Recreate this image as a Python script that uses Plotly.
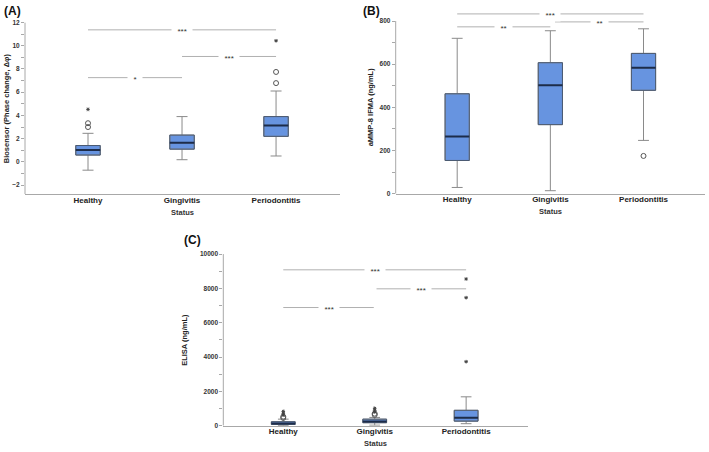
import plotly.graph_objects as go

W, H = 709, 452

categories = ["Healthy", "Gingivitis", "Periodontitis"]

# Panel A: Biosensor (phase change)
a_lower = [-0.71, 0.19, 0.51]
a_q1 = [0.59, 1.10, 2.20]
a_median = [1.02, 1.64, 3.14]
a_q3 = [1.41, 2.31, 3.90]
a_upper = [2.46, 3.90, 6.10]
a_circle_x = [0, 0, 2, 2]
a_circle_y = [3.0, 3.33, 6.78, 7.74]
a_star_x = [0, 2]
a_star_y = [4.52, 10.42]
a_sig_from = [0, 1, 0]
a_sig_to = [2, 2, 1]
a_sig_y = [11.36, 9.07, 7.25]
a_sig_text = ["***", "***", "*"]

# Panel B: aMMP-8 IFMA
b_lower = [29, 14, 247]
b_q1 = [154, 320, 479]
b_median = [265, 502, 584]
b_q3 = [463, 607, 650]
b_upper = [720, 755, 764]
b_circle_x = [2]
b_circle_y = [175]
b_star_x = []
b_star_y = []
b_sig_from = [0, 0, 1.05]
b_sig_to = [2, 1, 2]
b_sig_y = [833, 773, 796]
b_sig_text = ["***", "**", "**"]

# Panel C: ELISA
c_lower = [10, 30, 115]
c_q1 = [70, 172, 264]
c_median = [130, 250, 459]
c_q3 = [230, 380, 895]
c_upper = [380, 480, 1681]
c_circle_x = [0, 0, 1, 1]
c_circle_y = [450, 520, 630, 700]
c_star_x = [0, 0, 0, 1, 1, 1, 2, 2, 2]
c_star_y = [620, 720, 830, 800, 900, 1010, 3729, 7458, 8548]
c_sig_from = [0, 1.02, 0]
c_sig_to = [2, 2, 0.99]
c_sig_y = [9082, 7975, 6885]
c_sig_text = ["***", "***", "***"]

FONT = "Liberation Sans"
BOX_FILL = "#6794e0"
BOX_EDGE = "#4a5a73"
MEDIAN = "#1c2c4a"
WHISK = "#8a8a8a"
SIGLINE = "#b0b0b0"
AXIS = "#a8a8a8"
BOX_W = 0.26


def px_x(p):
    return p / W


def px_y(p):
    return (H - p) / H


panels = [
    dict(lo=a_lower, q1=a_q1, med=a_median, q3=a_q3, up=a_upper,
         cx=a_circle_x, cy=a_circle_y, sx=a_star_x, sy=a_star_y,
         sf=a_sig_from, st=a_sig_to, sy2=a_sig_y, stxt=a_sig_text,
         dx=(25, 340), dy=(18.7, 193), xr=[-0.67, 2.68], yr=[-2.76, 12],
         axis_top=12, minor=1, tickvals=list(range(-2, 13, 2)),
         ytitle="Biosensor (Phase change, Δφ)", ytx=6, label="(A)", lx=2, ly=7),
    dict(lo=b_lower, q1=b_q1, med=b_median, q3=b_q3, up=b_upper,
         cx=b_circle_x, cy=b_circle_y, sx=b_star_x, sy=b_star_y,
         sf=b_sig_from, st=b_sig_to, sy2=b_sig_y, stxt=b_sig_text,
         dx=(395.7, 705), dy=(8.53, 192.7), xr=[-0.66, 2.66], yr=[0, 840],
         axis_top=800, minor=100, tickvals=list(range(0, 801, 200)),
         ytitle="aMMP-8 IFMA (ng/mL)", ytx=370, label="(B)", lx=361, ly=7),
    dict(lo=c_lower, q1=c_q1, med=c_median, q3=c_q3, up=c_upper,
         cx=c_circle_x, cy=c_circle_y, sx=c_star_x, sy=c_star_y,
         sf=c_sig_from, st=c_sig_to, sy2=c_sig_y, stxt=c_sig_text,
         dx=(223.3, 528.3), dy=(254, 428.3), xr=[-0.656, 2.68], yr=[0, 10000],
         axis_top=10000, minor=1000, tickvals=list(range(0, 10001, 2000)),
         ytitle="ELISA (ng/mL)", ytx=185, label="(C)", lx=182, ly=240),
]

fig = go.Figure()
annotations = []
shapes = []
pos = [0, 1, 2]

for i, p in enumerate(panels):
    n = "" if i == 0 else str(i + 1)
    xa, ya = "x" + n, "y" + n
    fig.add_trace(go.Box(
        x=pos, q1=p["q1"], median=p["med"], q3=p["q3"],
        lowerfence=p["lo"], upperfence=p["up"],
        width=BOX_W, whiskerwidth=0.45, fillcolor=BOX_FILL,
        line=dict(color=WHISK, width=1), boxpoints=False,
        xaxis=xa, yaxis=ya, showlegend=False, hoverinfo="skip"))
    for k in pos:
        x0, x1 = k - BOX_W / 2, k + BOX_W / 2
        fig.add_trace(go.Scatter(
            x=[x0, x1, x1, x0, x0],
            y=[p["q1"][k], p["q1"][k], p["q3"][k], p["q3"][k], p["q1"][k]],
            mode="lines", line=dict(color=BOX_EDGE, width=1),
            xaxis=xa, yaxis=ya, showlegend=False, hoverinfo="skip"))
        fig.add_trace(go.Scatter(
            x=[x0, x1], y=[p["med"][k], p["med"][k]],
            mode="lines", line=dict(color=MEDIAN, width=2),
            xaxis=xa, yaxis=ya, showlegend=False, hoverinfo="skip"))
    if p["cx"]:
        fig.add_trace(go.Scatter(
            x=p["cx"], y=p["cy"], mode="markers",
            marker=dict(symbol="circle-open", size=5, color="#555", line=dict(width=1)),
            xaxis=xa, yaxis=ya, showlegend=False, hoverinfo="skip"))
    if p["sx"]:
        fig.add_trace(go.Scatter(
            x=p["sx"], y=p["sy"], mode="markers",
            marker=dict(symbol="asterisk-open", size=3, color="#444",
                        line=dict(width=1, color="#444")),
            xaxis=xa, yaxis=ya, showlegend=False, hoverinfo="skip"))
    for f, t, yv, txt in zip(p["sf"], p["st"], p["sy2"], p["stxt"]):
        fig.add_trace(go.Scatter(
            x=[f, t], y=[yv, yv], mode="lines",
            line=dict(color=SIGLINE, width=1),
            xaxis=xa, yaxis=ya, showlegend=False, hoverinfo="skip"))
        annotations.append(dict(
            x=(f + t) / 2, y=yv, xref=xa, yref=ya, showarrow=False,
            xanchor="center", yanchor="middle",
            text="\u00a0\u00a0" + txt + "\u00a0\u00a0", bgcolor="white",
            font=dict(family=FONT, size=8, color="#333"), yshift=-2))

    # y axis line drawn only up to the top tick
    shapes.append(dict(
        type="line", xref=xa + " domain", yref=ya,
        x0=0, x1=0, y0=p["yr"][0], y1=p["axis_top"],
        line=dict(color=AXIS, width=1), layer="above"))

    dom_x = [px_x(p["dx"][0]), px_x(p["dx"][1])]
    dom_y = [px_y(p["dy"][1]), px_y(p["dy"][0])]
    fig.update_layout(**{
        "xaxis" + n: dict(
            domain=dom_x, range=p["xr"], tickvals=pos, ticktext=categories,
            showgrid=False, zeroline=False, showline=True, linecolor=AXIS,
            linewidth=1, ticks="", anchor=ya, ticklabelstandoff=-2,
            tickfont=dict(family=FONT, size=8, color="#222", weight=700)),
        "yaxis" + n: dict(
            domain=dom_y, range=p["yr"], tickvals=p["tickvals"], tickformat="d",
            showgrid=False, zeroline=False, showline=False,
            ticks="outside", ticklen=3, tickcolor=AXIS,
            minor=dict(ticks="outside", ticklen=3, dtick=p["minor"], tickcolor=AXIS),
            anchor=xa,
            tickfont=dict(family=FONT, size=6.5, color="#333", weight=700)),
    })
    cy_mid = (p["dy"][0] + p["dy"][1]) / 2 if i != 1 else (17.3 + 192.7) / 2
    annotations.append(dict(
        x=px_x(p["ytx"]), y=px_y(cy_mid), xref="paper", yref="paper",
        xanchor="center", yanchor="middle",
        text=p["ytitle"], textangle=-90, showarrow=False,
        font=dict(family=FONT, size=7.5, color="#222", weight=700)))
    annotations.append(dict(
        x=px_x((p["dx"][0] + p["dx"][1]) / 2), y=px_y(p["dy"][1] + 18.5),
        xref="paper", yref="paper", text="Status", showarrow=False,
        xanchor="center", yanchor="middle",
        font=dict(family=FONT, size=7.5, color="#333", weight=700)))
    annotations.append(dict(
        x=px_x(p["lx"]), y=px_y(p["ly"]), xref="paper", yref="paper",
        xanchor="left", yanchor="middle", text=p["label"], showarrow=False,
        font=dict(family=FONT, size=12, color="#111", weight=700)))

fig.update_layout(
    width=W, height=H, autosize=False,
    margin=dict(l=0, r=0, t=0, b=0),
    paper_bgcolor="white", plot_bgcolor="white",
    annotations=annotations, shapes=shapes, showlegend=False)

fig.write_html("out.html", config={"displayModeBar": False},
               post_script="document.body.style.margin='0';")
